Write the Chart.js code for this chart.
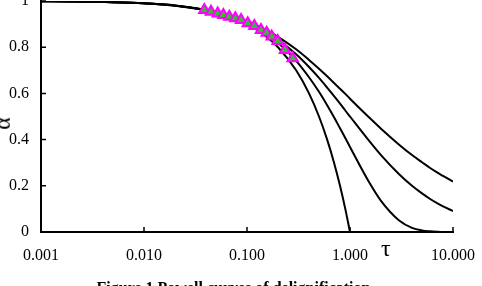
<!DOCTYPE html>
<html lang="en">
<head>
    <meta charset="UTF-8">
    <title>Powell curves of delignification</title>
    <script src="https://cdn.jsdelivr.net/npm/chart.js"></script>
    <style>
        body {
            margin: 0;
            padding: 0;
            background: #fff;
            overflow: hidden;
            font-family: "Liberation Serif", "Times New Roman", serif;
        }
        .wrap {
            position: relative;
            width: 482px;
            height: 286px;
            overflow: hidden;
        }
        #powellChart {
            position: absolute;
            left: 0;
            top: -7px;
        }
        .label {
            position: absolute;
            color: #000;
            white-space: nowrap;
        }
        #alpha {
            left: -4px;
            top: 110px;
            font-size: 24px;
            transform: rotate(-90deg);
        }
        #tau {
            left: 381px;
            top: 235px;
            font-size: 24px;
        }
        #title {
            left: 0;
            width: 467px;
            top: 279px;
            text-align: center;
            font-size: 16px;
            font-weight: bold;
        }
    </style>
</head>
<body>
    <div class="wrap">
        <canvas id="powellChart" width="482" height="293"></canvas>
        <div class="label" id="alpha">α</div>
        <div class="label" id="tau">τ</div>
        <div class="label" id="title">Figure 1 Powell curves of delignification</div>
    </div>

    <script>
        // dimensionless time, shared by the four curves
        const tau = [0.001, 0.002, 0.005, 0.01, 0.02, 0.05, 0.1, 0.15, 0.2, 0.3, 0.4, 0.5, 0.6, 0.7, 0.8, 0.9, 1, 1.5, 2, 3, 4, 5, 6, 7, 8, 10];
        const curveA = [0.999, 0.998, 0.995, 0.990, 0.980, 0.950, 0.900, 0.850, 0.800, 0.700, 0.600, 0.500, 0.400, 0.300, 0.200, 0.100, 0.000, null, null, null, null, null, null, null, null, null];
        const curveB = [0.999, 0.998, 0.995, 0.990, 0.980, 0.951, 0.905, 0.861, 0.819, 0.741, 0.670, 0.607, 0.549, 0.497, 0.449, 0.407, 0.368, 0.223, 0.135, 0.050, 0.018, 0.007, 0.003, 0.001, 0.000, 0.000];
        const curveC = [0.999, 0.998, 0.995, 0.990, 0.980, 0.952, 0.909, 0.870, 0.833, 0.769, 0.714, 0.667, 0.625, 0.588, 0.556, 0.526, 0.500, 0.400, 0.333, 0.250, 0.200, 0.167, 0.143, 0.125, 0.111, 0.091];
        const curveD = [0.999, 0.998, 0.995, 0.990, 0.981, 0.953, 0.913, 0.877, 0.845, 0.791, 0.745, 0.707, 0.674, 0.645, 0.620, 0.598, 0.577, 0.500, 0.447, 0.378, 0.333, 0.302, 0.277, 0.258, 0.243, 0.218];

        // experimental points (triangles)
        const expTau = [0.0385, 0.0447, 0.0519, 0.0589, 0.0673, 0.0770, 0.0875, 0.1016, 0.1178, 0.1367, 0.1553, 0.1737, 0.1986, 0.2338, 0.2778];
        const expAlpha = [0.961, 0.954, 0.946, 0.939, 0.932, 0.925, 0.918, 0.904, 0.892, 0.874, 0.863, 0.846, 0.827, 0.788, 0.752];

        const xTicks = [0.001, 0.01, 0.1, 1, 10];
        const xTickLabels = ['0.001', '0.010', '0.100', '1.000', '10.000'];
        const yTicks = [0, 0.2, 0.4, 0.6, 0.8, 1];
        const yTickLabels = ['0', '0.2', '0.4', '0.6', '0.8', '1'];

        function toPoints(xs, ys) {
            const pts = [];
            for (let i = 0; i < xs.length; i++) {
                if (ys[i] !== null) pts.push({ x: xs[i], y: ys[i] });
            }
            return pts;
        }

        function curve(values) {
            return {
                type: 'line',
                data: toPoints(tau, values),
                borderColor: '#000',
                borderWidth: 2,
                pointRadius: 0,
                fill: false,
                cubicInterpolationMode: 'monotone',
                order: 2
            };
        }

        // small tick marks pointing into the plot
        const innerTicks = {
            id: 'innerTicks',
            afterDatasetsDraw(chart) {
                const ctx = chart.ctx;
                const area = chart.chartArea;
                const x = chart.scales.x;
                const y = chart.scales.y;
                ctx.save();
                ctx.strokeStyle = '#000';
                ctx.lineWidth = 1.5;
                ctx.beginPath();
                xTicks.forEach(v => {
                    const px = x.getPixelForValue(v);
                    ctx.moveTo(px, area.bottom);
                    ctx.lineTo(px, area.bottom - 5);
                });
                yTicks.forEach(v => {
                    const py = y.getPixelForValue(v);
                    ctx.moveTo(area.left, py);
                    ctx.lineTo(area.left + 5, py);
                });
                ctx.stroke();
                ctx.restore();
            }
        };

        const font = { family: "'Liberation Serif', 'Times New Roman', serif", size: 16 };

        new Chart(document.getElementById('powellChart'), {
            type: 'line',
            data: {
                datasets: [
                    curve(curveA),
                    curve(curveB),
                    curve(curveC),
                    curve(curveD),
                    {
                        type: 'scatter',
                        data: toPoints(expTau, expAlpha),
                        pointStyle: 'triangle',
                        pointRadius: 6,
                        backgroundColor: '#2fbf2f',
                        borderColor: '#ff00ff',
                        borderWidth: 2,
                        showLine: false,
                        order: 1
                    }
                ]
            },
            options: {
                responsive: false,
                animation: false,
                layout: { padding: { top: 1, right: 29, left: 0, bottom: 0 } },
                plugins: {
                    legend: { display: false },
                    tooltip: { enabled: false }
                },
                scales: {
                    x: {
                        type: 'logarithmic',
                        min: 0.001,
                        max: 10,
                        afterBuildTicks(scale) {
                            scale.ticks = xTicks.map(v => ({ value: v }));
                        },
                        afterFit(scale) {
                            scale.height = 54;
                            scale.paddingLeft = 0;
                            scale.paddingRight = 0;
                        },
                        ticks: {
                            color: '#000',
                            font: font,
                            padding: 14,
                            maxRotation: 0,
                            autoSkip: false,
                            callback: (v, i) => xTickLabels[i]
                        },
                        grid: { display: false, drawTicks: false },
                        border: { display: true, color: '#000', width: 2 }
                    },
                    y: {
                        min: 0,
                        max: 1,
                        afterBuildTicks(scale) {
                            scale.ticks = yTicks.map(v => ({ value: v }));
                        },
                        afterFit(scale) {
                            scale.width = 41;
                            scale.paddingTop = 0;
                            scale.paddingBottom = 0;
                        },
                        ticks: {
                            color: '#000',
                            font: font,
                            padding: 12,
                            autoSkip: false,
                            callback: (v, i) => yTickLabels[i]
                        },
                        grid: { display: false, drawTicks: false },
                        border: { display: true, color: '#000', width: 2 }
                    }
                }
            },
            plugins: [innerTicks]
        });
    </script>
</body>
</html>
